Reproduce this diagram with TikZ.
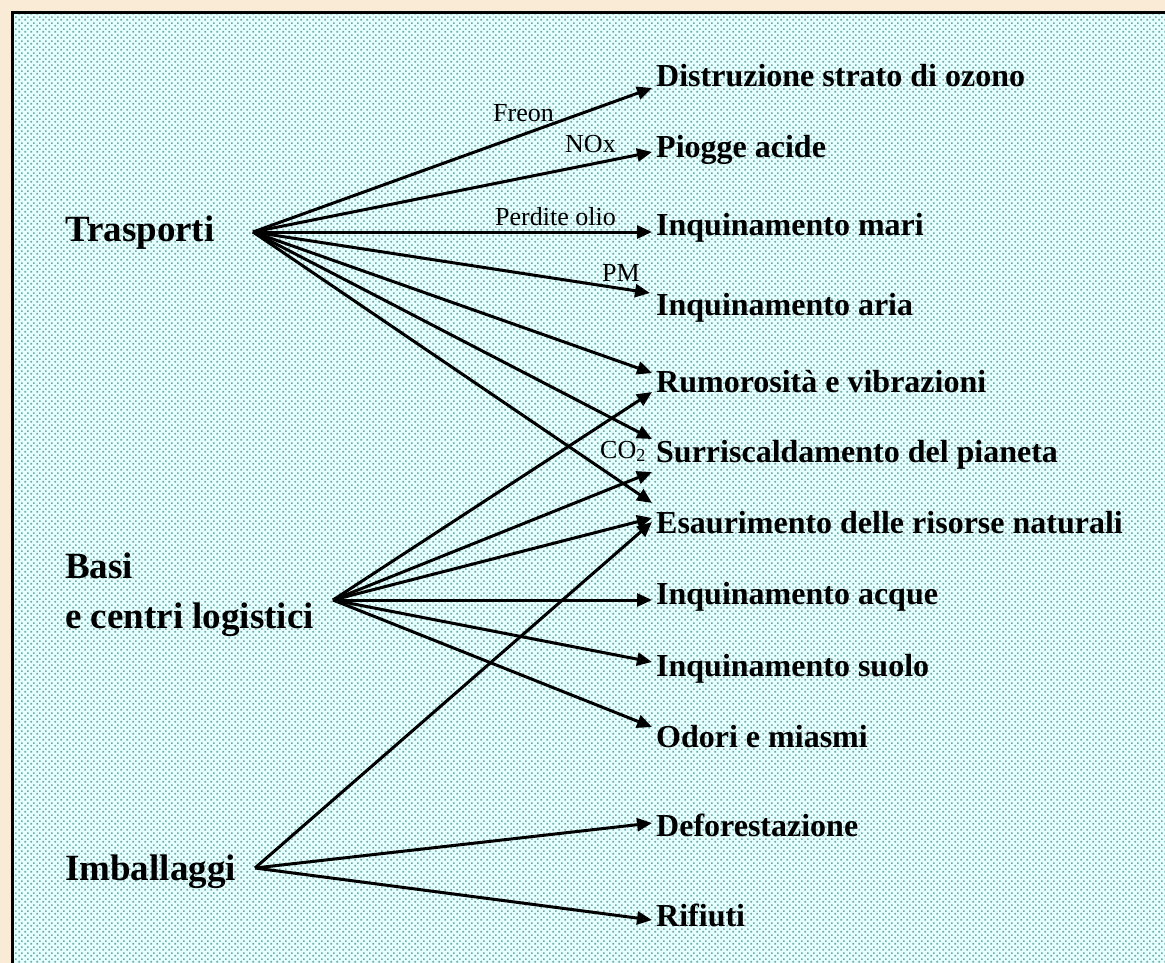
\documentclass[tikz,border=0pt]{standalone}
\usepackage{fontspec}
\setmainfont{Liberation Serif}
\usetikzlibrary{arrows.meta,patterns}
\pgfdeclarepatternformonly{mydots}{\pgfqpoint{0pt}{0pt}}{\pgfqpoint{6pt}{6pt}}{\pgfqpoint{6pt}{6pt}}{%
  \pgfpathrectangle{\pgfqpoint{0.5pt}{0.5pt}}{\pgfqpoint{2pt}{2pt}}%
  \pgfpathrectangle{\pgfqpoint{3.5pt}{3.5pt}}{\pgfqpoint{2pt}{2pt}}%
  \pgfusepath{fill}}
\definecolor{framec}{RGB}{250,235,215}
\definecolor{bgc}{RGB}{230,255,255}
\definecolor{dotc}{RGB}{108,168,164}
\begin{document}
\begin{tikzpicture}[x=1pt,y=-1pt,
  src/.style={font=\fontsize{37}{50}\selectfont\bfseries, inner sep=0pt, anchor=base west},
  tgt/.style={font=\fontsize{32}{37}\selectfont\bfseries, inner sep=0pt, anchor=base west},
  lbl/.style={font=\fontsize{26}{30}\selectfont, inner sep=0pt, anchor=base west},
  arr/.style={line width=3pt, -{Triangle[length=15pt,width=13pt]}}]
\useasboundingbox (0,0) rectangle (1165,963);
\fill[framec] (0,0) rectangle (1165,963);
\fill[bgc] (14,14) rectangle (1165,963);
\fill[pattern=mydots, pattern color=dotc] (14,14) rectangle (1165,963);
\draw[line width=3pt] (12.5,963) -- (12.5,12.5) -- (1165,12.5);

% sources
\node[src] (tr) at (65,241) {Trasporti};
\node[src] (ba) at (65,578) {\vtop{\baselineskip=50pt\hbox{Basi}\hbox{e centri logistici}}};
\node[src] (im) at (65,880) {Imballaggi};
\coordinate (trA) at (253,232);
\coordinate (baA) at (333,600);
\coordinate (imA) at (255,868);

% targets
\node[tgt] (dist) at (656,87) {Distruzione strato di ozono};
\node[tgt] (piog) at (656,158) {Piogge acide};
\node[tgt] (mari) at (656,235) {Inquinamento mari};
\node[tgt] (aria) at (656,315) {Inquinamento aria};
\node[tgt] (rum) at (656,392) {Rumorosità e vibrazioni};
\node[tgt] (surr) at (656,462) {Surriscaldamento del pianeta};
\node[tgt] (esa) at (656,533) {Esaurimento delle risorse naturali};
\node[tgt] (acq) at (656,604) {Inquinamento acque};
\node[tgt] (suo) at (656,676) {Inquinamento suolo};
\node[tgt] (odo) at (656,747) {Odori e miasmi};
\node[tgt] (def) at (656,836) {Deforestazione};
\node[tgt] (rif) at (656,926) {Rifiuti};

% edge labels
\node[lbl] (lfreon) at (493,122) {Freon};
\node[lbl] (lnox) at (565,153) {NOx};
\node[lbl] (lolio) at (495,225) {Perdite olio};
\node[lbl] (lpm) at (602,281) {PM};
\node[lbl] (lco) at (600,458) {CO\textsubscript{2}};

% Trasporti
\draw[arr] (trA) -- ([shift={(-4,1)}]dist.base west);
\draw[arr] (trA) -- ([shift={(-4,-6)}]piog.base west);
\draw[arr] (trA) -- ([shift={(-4,-3)}]mari.base west);
\draw[arr] (trA) -- ([shift={(-6,-22)}]aria.base west);
\draw[arr] (trA) -- ([shift={(-4,-19)}]rum.base west);
\draw[arr] (trA) -- ([shift={(-4,-23)}]surr.base west);
\draw[arr] (trA) -- ([shift={(-4,-30)}]esa.base west);
% Basi
\draw[arr] (baA) -- ([shift={(-4,0)}]rum.base west);
\draw[arr] (baA) -- ([shift={(-4,10)}]surr.base west);
\draw[arr] (baA) -- ([shift={(-4,-15)}]esa.base west);
\draw[arr] (baA) -- ([shift={(-4,-4)}]acq.base west);
\draw[arr] (baA) -- ([shift={(-4,-14)}]suo.base west);
\draw[arr] (baA) -- ([shift={(-4,-20)}]odo.base west);
% Imballaggi
\draw[arr] (imA) -- ([shift={(-4,-11)}]esa.base west);
\draw[arr] (imA) -- ([shift={(-4,-13)}]def.base west);
\draw[arr] (imA) -- ([shift={(-4,-6)}]rif.base west);
\end{tikzpicture}
\end{document}
